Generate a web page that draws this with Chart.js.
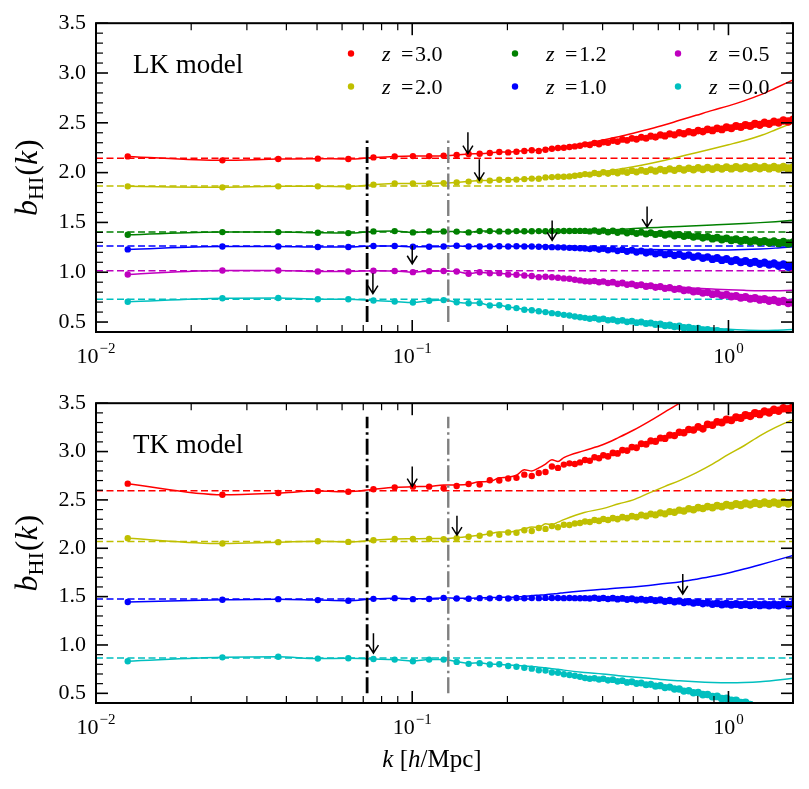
<!DOCTYPE html>
<html>
<head>
<meta charset="utf-8">
<script src="https://cdn.jsdelivr.net/npm/chart.js@4.4.0/dist/chart.umd.min.js"></script>
<style>
body { margin: 0; background: #fff; }
#wrap { position: relative; width: 809px; height: 789px; }
canvas { position: absolute; left: 0; }
</style>
</head>
<body>
<div id="wrap">
  <canvas id="lk" width="809" height="380" style="top:0"></canvas>
  <canvas id="tk" width="809" height="409" style="top:380px"></canvas>
</div>
<script>
// k bins of the measured points [h/Mpc]
var kBins = [0.0126, 0.0251, 0.0377, 0.0503, 0.0628, 0.0754, 0.0880, 0.1005, 0.1131, 0.1257,
  0.1382, 0.1508, 0.1634, 0.1759, 0.1885, 0.2011, 0.2136, 0.2262, 0.2388, 0.2513,
  0.2639, 0.2765, 0.2890, 0.3016, 0.3142, 0.3267, 0.3393, 0.3519, 0.3644, 0.3770,
  0.3896, 0.4021, 0.416, 0.431, 0.446, 0.462, 0.478, 0.495, 0.512, 0.530,
  0.549, 0.568, 0.588, 0.609, 0.630, 0.652, 0.675, 0.699, 0.723, 0.749,
  0.775, 0.802, 0.830, 0.859, 0.890, 0.921, 0.953, 0.986, 1.021, 1.057,
  1.094, 1.132, 1.172, 1.213, 1.256, 1.300, 1.345, 1.393, 1.441, 1.492,
  1.545, 1.600];
// k of the model curves
var kModel = [0.0126, 0.0251, 0.0377, 0.0503, 0.0628, 0.0754, 0.0880, 0.1005, 0.1131, 0.1257,
  0.1382, 0.1508, 0.1634, 0.1759, 0.1885, 0.2011, 0.2136, 0.2262, 0.2388, 0.2513,
  0.2639, 0.2765, 0.2890, 0.3016, 0.35, 0.40, 0.45, 0.50, 0.56, 0.63,
  0.70, 0.79, 0.89, 1.00, 1.12, 1.26, 1.41, 1.60];

var zLabelsLK = ['3.0', '2.0', '1.2', '1.0', '0.5', '0.0'];
var zColorsLK = ['#ff0000', '#bfbf00', '#008000', '#0000ff', '#bf00bf', '#00bfbf'];
var zColorsTK = ['#ff0000', '#bfbf00', '#0000ff', '#00bfbf'];

// LK model, points
var lkPts30 = [2.163, 2.123, 2.136, 2.140, 2.136, 2.153, 2.163, 2.166, 2.166, 2.170,
  2.177, 2.187, 2.190, 2.197, 2.207, 2.203, 2.210, 2.217, 2.224, 2.217,
  2.230, 2.240, 2.247, 2.250, 2.257, 2.263, 2.270, 2.284, 2.278, 2.297,
  2.286, 2.305, 2.300, 2.322, 2.312, 2.333, 2.324, 2.344, 2.335, 2.356,
  2.346, 2.366, 2.357, 2.378, 2.368, 2.389, 2.379, 2.400, 2.390, 2.411,
  2.401, 2.422, 2.412, 2.434, 2.423, 2.445, 2.434, 2.456, 2.446, 2.467,
  2.457, 2.478, 2.468, 2.490, 2.479, 2.501, 2.490, 2.512, 2.502, 2.523,
  2.513, 2.530];
var lkPts20 = [1.862, 1.852, 1.862, 1.862, 1.859, 1.879, 1.892, 1.892, 1.892, 1.895,
  1.902, 1.910, 1.922, 1.920, 1.929, 1.927, 1.930, 1.935, 1.940, 1.938,
  1.952, 1.955, 1.959, 1.958, 1.962, 1.969, 1.975, 1.985, 1.980, 1.996,
  1.986, 2.003, 1.990, 2.008, 1.995, 2.014, 2.001, 2.020, 2.007, 2.025,
  2.011, 2.029, 2.015, 2.033, 2.019, 2.037, 2.023, 2.041, 2.027, 2.045,
  2.030, 2.048, 2.032, 2.051, 2.036, 2.053, 2.038, 2.055, 2.040, 2.056,
  2.041, 2.057, 2.042, 2.058, 2.042, 2.058, 2.042, 2.057, 2.041, 2.056,
  2.040, 2.052];
var lkPts12 = [1.376, 1.403, 1.403, 1.396, 1.393, 1.410, 1.413, 1.400, 1.410, 1.410,
  1.408, 1.400, 1.413, 1.413, 1.410, 1.408, 1.413, 1.412, 1.411, 1.413,
  1.412, 1.414, 1.413, 1.414, 1.414, 1.415, 1.415, 1.415, 1.410, 1.419,
  1.406, 1.418, 1.402, 1.416, 1.398, 1.412, 1.394, 1.407, 1.389, 1.402,
  1.384, 1.396, 1.379, 1.391, 1.373, 1.385, 1.366, 1.378, 1.360, 1.371,
  1.353, 1.364, 1.345, 1.356, 1.337, 1.348, 1.329, 1.340, 1.321, 1.332,
  1.314, 1.325, 1.308, 1.319, 1.302, 1.313, 1.297, 1.308, 1.292, 1.304,
  1.288, 1.298];
var lkPts10 = [1.229, 1.259, 1.259, 1.253, 1.253, 1.263, 1.263, 1.256, 1.256, 1.258,
  1.266, 1.258, 1.258, 1.258, 1.261, 1.258, 1.261, 1.258, 1.258, 1.256,
  1.253, 1.252, 1.250, 1.248, 1.245, 1.243, 1.241, 1.239, 1.232, 1.240,
  1.227, 1.236, 1.221, 1.232, 1.215, 1.226, 1.208, 1.220, 1.200, 1.212,
  1.192, 1.204, 1.184, 1.196, 1.176, 1.188, 1.168, 1.180, 1.160, 1.172,
  1.151, 1.163, 1.141, 1.153, 1.131, 1.143, 1.121, 1.133, 1.111, 1.123,
  1.101, 1.113, 1.092, 1.104, 1.084, 1.096, 1.076, 1.088, 1.066, 1.078,
  1.056, 1.064];
var lkPts05 = [0.977, 1.018, 1.018, 1.008, 1.008, 1.015, 1.012, 1.001, 1.011, 1.013,
  1.008, 0.984, 1.000, 0.990, 0.991, 0.977, 0.975, 0.967, 0.962, 0.950,
  0.955, 0.950, 0.944, 0.938, 0.935, 0.924, 0.918, 0.910, 0.906, 0.913,
  0.899, 0.907, 0.892, 0.900, 0.884, 0.892, 0.876, 0.883, 0.867, 0.874,
  0.858, 0.865, 0.848, 0.855, 0.838, 0.845, 0.828, 0.834, 0.816, 0.822,
  0.804, 0.810, 0.792, 0.798, 0.780, 0.786, 0.768, 0.774, 0.756, 0.762,
  0.744, 0.751, 0.734, 0.741, 0.724, 0.731, 0.714, 0.721, 0.703, 0.710,
  0.691, 0.696];
var lkPts00 = [0.703, 0.739, 0.742, 0.729, 0.729, 0.716, 0.706, 0.696, 0.713, 0.720,
  0.699, 0.689, 0.690, 0.666, 0.668, 0.649, 0.640, 0.623, 0.618, 0.609,
  0.600, 0.589, 0.582, 0.572, 0.565, 0.555, 0.548, 0.542, 0.534, 0.541,
  0.526, 0.533, 0.518, 0.525, 0.510, 0.517, 0.502, 0.509, 0.494, 0.501,
  0.486, 0.490, 0.476, 0.479, 0.465, 0.468, 0.454, 0.457, 0.443, 0.446,
  0.432, 0.434, 0.420, 0.422, 0.408, 0.410, 0.396, 0.398, 0.386];

// LK model, curves
var lkMod30 = [2.163, 2.123, 2.136, 2.140, 2.136, 2.153, 2.163, 2.166, 2.166, 2.170,
  2.177, 2.187, 2.190, 2.197, 2.207, 2.205, 2.212, 2.220, 2.226, 2.225,
  2.234, 2.244, 2.252, 2.258, 2.295, 2.325, 2.360, 2.395, 2.435, 2.480,
  2.525, 2.575, 2.625, 2.670, 2.720, 2.780, 2.850, 2.930];
var lkMod20 = [1.862, 1.852, 1.862, 1.862, 1.859, 1.879, 1.892, 1.892, 1.892, 1.895,
  1.902, 1.910, 1.922, 1.920, 1.929, 1.928, 1.932, 1.937, 1.942, 1.942,
  1.953, 1.958, 1.962, 1.964, 1.985, 2.010, 2.035, 2.060, 2.090, 2.125,
  2.160, 2.200, 2.240, 2.280, 2.320, 2.370, 2.430, 2.500];
var lkMod12 = [1.376, 1.403, 1.403, 1.396, 1.393, 1.410, 1.413, 1.400, 1.410, 1.410,
  1.408, 1.400, 1.413, 1.413, 1.410, 1.408, 1.413, 1.412, 1.412, 1.414,
  1.414, 1.416, 1.416, 1.417, 1.420, 1.425, 1.430, 1.438, 1.446, 1.453,
  1.460, 1.467, 1.474, 1.481, 1.489, 1.498, 1.508, 1.522];
var lkMod10 = [1.229, 1.259, 1.259, 1.253, 1.253, 1.263, 1.263, 1.256, 1.256, 1.258,
  1.266, 1.258, 1.258, 1.258, 1.261, 1.258, 1.261, 1.258, 1.258, 1.257,
  1.255, 1.254, 1.252, 1.250, 1.246, 1.241, 1.236, 1.232, 1.228, 1.225,
  1.223, 1.222, 1.222, 1.224, 1.228, 1.234, 1.242, 1.255];
var lkMod05 = [0.977, 1.018, 1.018, 1.008, 1.008, 1.015, 1.012, 1.001, 1.011, 1.013,
  1.008, 0.986, 1.000, 0.992, 0.991, 0.980, 0.977, 0.970, 0.965, 0.955,
  0.957, 0.952, 0.947, 0.941, 0.922, 0.905, 0.891, 0.880, 0.869, 0.859,
  0.850, 0.840, 0.831, 0.823, 0.818, 0.815, 0.815, 0.818];
var lkMod00 = [0.703, 0.739, 0.742, 0.729, 0.729, 0.716, 0.706, 0.696, 0.713, 0.720,
  0.699, 0.690, 0.690, 0.668, 0.668, 0.651, 0.642, 0.626, 0.620, 0.611,
  0.602, 0.592, 0.585, 0.576, 0.548, 0.531, 0.516, 0.503, 0.490, 0.477,
  0.465, 0.451, 0.438, 0.427, 0.419, 0.415, 0.417, 0.424];
var lkLinBias = [2.145, 1.865, 1.403, 1.264, 1.016, 0.728];

// TK model, points
var tkPts30 = [2.668, 2.554, 2.571, 2.591, 2.584, 2.610, 2.630, 2.637, 2.637, 2.620,
  2.644, 2.664, 2.660, 2.704, 2.700, 2.721, 2.728, 2.761, 2.748, 2.778,
  2.788, 2.845, 2.831, 2.865, 2.878, 2.872, 2.888, 2.912, 2.905, 2.940,
  2.930, 2.962, 2.950, 2.986, 2.980, 3.015, 3.010, 3.046, 3.040, 3.080,
  3.075, 3.110, 3.105, 3.140, 3.135, 3.170, 3.165, 3.200, 3.195, 3.228,
  3.222, 3.255, 3.235, 3.281, 3.274, 3.307, 3.300, 3.332, 3.324, 3.355,
  3.346, 3.377, 3.367, 3.397, 3.386, 3.415, 3.404, 3.433, 3.421, 3.449,
  3.437, 3.462];
var tkPts20 = [2.103, 2.049, 2.063, 2.073, 2.066, 2.083, 2.096, 2.096, 2.096, 2.093,
  2.103, 2.119, 2.129, 2.153, 2.140, 2.163, 2.160, 2.186, 2.178, 2.209,
  2.200, 2.229, 2.218, 2.243, 2.240, 2.256, 2.262, 2.276, 2.272, 2.292,
  2.283, 2.302, 2.292, 2.312, 2.302, 2.322, 2.312, 2.332, 2.322, 2.344,
  2.334, 2.355, 2.345, 2.366, 2.356, 2.379, 2.372, 2.394, 2.386, 2.408,
  2.399, 2.420, 2.411, 2.431, 2.421, 2.441, 2.431, 2.450, 2.439, 2.458,
  2.446, 2.464, 2.452, 2.469, 2.456, 2.473, 2.459, 2.475, 2.461, 2.477,
  2.463, 2.478];
var tkPts10 = [1.444, 1.467, 1.474, 1.464, 1.457, 1.477, 1.484, 1.474, 1.476, 1.487,
  1.480, 1.478, 1.484, 1.482, 1.485, 1.481, 1.486, 1.483, 1.485, 1.484,
  1.487, 1.485, 1.486, 1.484, 1.485, 1.484, 1.483, 1.484, 1.480, 1.488,
  1.477, 1.486, 1.475, 1.484, 1.473, 1.481, 1.470, 1.478, 1.466, 1.474,
  1.462, 1.470, 1.458, 1.466, 1.452, 1.460, 1.446, 1.454, 1.440, 1.448,
  1.434, 1.442, 1.428, 1.436, 1.423, 1.431, 1.419, 1.427, 1.416, 1.424,
  1.414, 1.421, 1.412, 1.420, 1.411, 1.419, 1.411, 1.419, 1.411, 1.420,
  1.412, 1.420];
var tkPts00 = [0.832, 0.872, 0.878, 0.859, 0.862, 0.855, 0.849, 0.832, 0.849, 0.849,
  0.825, 0.805, 0.812, 0.798, 0.800, 0.782, 0.775, 0.765, 0.755, 0.738,
  0.735, 0.715, 0.712, 0.698, 0.690, 0.682, 0.672, 0.658, 0.650, 0.657,
  0.643, 0.650, 0.634, 0.641, 0.624, 0.631, 0.613, 0.619, 0.601, 0.607,
  0.588, 0.593, 0.574, 0.579, 0.560, 0.565, 0.545, 0.544, 0.523, 0.526,
  0.505, 0.508, 0.486, 0.488, 0.466, 0.468, 0.446, 0.448, 0.425, 0.426,
  0.403, 0.404, 0.381];

// TK model, curves
var tkMod30 = [2.668, 2.554, 2.571, 2.591, 2.584, 2.610, 2.630, 2.637, 2.640, 2.654,
  2.655, 2.662, 2.688, 2.690, 2.728, 2.735, 2.755, 2.811, 2.800, 2.831,
  2.871, 2.915, 2.898, 2.938, 3.010, 3.070, 3.146, 3.220, 3.310, 3.410,
  3.500, 3.620];
var tkMod20 = [2.103, 2.049, 2.063, 2.073, 2.066, 2.083, 2.096, 2.098, 2.100, 2.100,
  2.110, 2.122, 2.135, 2.150, 2.169, 2.165, 2.180, 2.200, 2.219, 2.215,
  2.253, 2.245, 2.270, 2.296, 2.370, 2.410, 2.460, 2.500, 2.570, 2.640,
  2.700, 2.780, 2.870, 2.970, 3.060, 3.165, 3.250, 3.330];
var tkMod10 = [1.444, 1.467, 1.474, 1.464, 1.457, 1.477, 1.484, 1.478, 1.480, 1.487,
  1.484, 1.484, 1.487, 1.490, 1.492, 1.494, 1.497, 1.502, 1.510, 1.515,
  1.520, 1.527, 1.533, 1.540, 1.560, 1.575, 1.590, 1.600, 1.615, 1.635,
  1.652, 1.680, 1.710, 1.745, 1.785, 1.830, 1.875, 1.925];
var tkMod00 = [0.832, 0.872, 0.878, 0.859, 0.862, 0.855, 0.849, 0.835, 0.849, 0.849,
  0.828, 0.810, 0.815, 0.802, 0.800, 0.792, 0.790, 0.782, 0.778, 0.770,
  0.765, 0.755, 0.750, 0.740, 0.715, 0.700, 0.682, 0.670, 0.655, 0.640,
  0.630, 0.620, 0.613, 0.610, 0.612, 0.620, 0.635, 0.655];
var tkLinBias = [2.594, 2.069, 1.475, 0.865];

// vertical dash-dot markers
var kCut = [0.072, 0.130];
var lkCutSpan = [0.5, 2.35];
var tkCutSpan = [0.5, 3.36];

// arrows (k, top of shaft, tip)
var lkArrowK = [0.150, 0.163, 0.277, 0.553, 0.100, 0.0751];
var lkArrowTop = [2.405, 2.133, 1.520, 1.661, 1.269, 0.990];
var lkArrowTip = [2.190, 1.922, 1.319, 1.453, 1.085, 0.786];
var tkArrowK = [0.100, 0.1385, 0.717, 0.0754];
var tkArrowTop = [2.845, 2.336, 1.735, 1.120];
var tkArrowTip = [2.637, 2.136, 1.527, 0.915];

// ticks
var yMajor = [0.5, 1.0, 1.5, 2.0, 2.5, 3.0, 3.5];
var yMinor = [0.4, 0.6, 0.7, 0.8, 0.9, 1.1, 1.2, 1.3, 1.4, 1.6, 1.7, 1.8, 1.9,
  2.1, 2.2, 2.3, 2.4, 2.6, 2.7, 2.8, 2.9, 3.1, 3.2, 3.3, 3.4];
var xMajor = [0.01, 0.1, 1];
var xExp = ['\u22122', '\u22121', '0'];
var xMinor = [0.02, 0.03, 0.04, 0.05, 0.06, 0.07, 0.08, 0.09,
  0.2, 0.3, 0.4, 0.5, 0.6, 0.7, 0.8, 0.9];

var SERIF = '"Liberation Serif", "Times New Roman", serif';

function xy(ks, vals) {
  return vals.map(function (v, i) { return { x: ks[i], y: v }; });
}

// dense high-k bins overlap into a thicker band
function dotRadius(c) {
  var k = c.raw ? c.raw.x : 0.01;
  if (k < 0.35) return 3.2;
  return 3.2 + 1.1 * Math.min(1, Math.log10(k / 0.35) / Math.log10(1.6 / 0.35));
}

function buildDatasets(pts, mods, bias, colors, cutSpan) {
  var ds = [];
  var cutColors = ['#000000', '#808080'];
  var cutWidths = [2.8, 2.4];
  kCut.forEach(function (k, i) {
    ds.push({
      data: [{ x: k, y: cutSpan[0] }, { x: k, y: cutSpan[1] }],
      showLine: true, borderColor: cutColors[i], borderWidth: cutWidths[i],
      borderDash: [16, 4, 2.5, 4], pointRadius: 0, order: 0, clip: 0
    });
  });
  pts.forEach(function (arr, i) {
    ds.push({
      data: xy(kBins, arr), backgroundColor: colors[i], pointRadius: dotRadius,
      pointBorderWidth: 0, pointHoverRadius: 0, showLine: false, order: 1, clip: 0
    });
  });
  mods.forEach(function (arr, i) {
    ds.push({
      data: xy(kModel, arr), showLine: true, borderColor: colors[i], borderWidth: 1.5,
      pointRadius: 0, cubicInterpolationMode: 'monotone', order: 2, clip: 0
    });
  });
  bias.forEach(function (b, i) {
    ds.push({
      data: [{ x: 0.01, y: b }, { x: 1.6, y: b }], showLine: true, borderColor: colors[i],
      borderWidth: 1.5, borderDash: [7, 3.5], pointRadius: 0, order: 3, clip: 0
    });
  });
  return ds;
}

function drawPieces(ctx, pieces, x, y) {
  pieces.forEach(function (p) {
    ctx.font = p.f;
    ctx.fillText(p.t, x, y + (p.dy || 0));
    x += ctx.measureText(p.t).width + (p.gap || 0);
  });
}
function piecesWidth(ctx, pieces) {
  var w = 0;
  pieces.forEach(function (p) { ctx.font = p.f; w += ctx.measureText(p.t).width + (p.gap || 0); });
  return w;
}

function makeDeco(cfg) {
  return {
    id: 'deco',
    afterDatasetsDraw: function (chart) {
      var ctx = chart.ctx, xs = chart.scales.x, ys = chart.scales.y;
      ctx.save();
      ctx.strokeStyle = '#000';
      ctx.lineWidth = 1.5;
      cfg.arrowK.forEach(function (k, i) {
        var px = xs.getPixelForValue(k);
        var y0 = ys.getPixelForValue(cfg.arrowTop[i]);
        var y1 = ys.getPixelForValue(cfg.arrowTip[i]);
        ctx.beginPath();
        ctx.moveTo(px, y0); ctx.lineTo(px, y1);
        ctx.moveTo(px - 5, y1 - 8); ctx.lineTo(px, y1); ctx.lineTo(px + 5, y1 - 8);
        ctx.stroke();
      });
      ctx.restore();
    },
    afterDraw: function (chart) {
      var ctx = chart.ctx, xs = chart.scales.x, ys = chart.scales.y, a = chart.chartArea;
      ctx.save();
      ctx.strokeStyle = '#000';
      function seg(x1, y1, x2, y2) { ctx.beginPath(); ctx.moveTo(x1, y1); ctx.lineTo(x2, y2); ctx.stroke(); }
      ctx.lineWidth = 1.2;
      xMinor.forEach(function (v) {
        var p = xs.getPixelForValue(v);
        seg(p, a.bottom, p, a.bottom - 7); seg(p, a.top, p, a.top + 7);
      });
      yMinor.forEach(function (v) {
        var p = ys.getPixelForValue(v);
        seg(a.left, p, a.left + 7, p); seg(a.right, p, a.right - 7, p);
      });
      ctx.lineWidth = 1.6;
      xMajor.forEach(function (v) {
        var p = xs.getPixelForValue(v);
        seg(p, a.bottom, p, a.bottom - 12); seg(p, a.top, p, a.top + 12);
      });
      yMajor.forEach(function (v) {
        var p = ys.getPixelForValue(v);
        seg(a.left, p, a.left + 12, p); seg(a.right, p, a.right - 12, p);
      });
      ctx.lineWidth = 2;
      ctx.strokeRect(a.left, a.top, a.right - a.left, a.bottom - a.top);

      ctx.fillStyle = '#000';
      ctx.textBaseline = 'alphabetic';
      ctx.textAlign = 'left';
      // x tick labels 10^n
      xMajor.forEach(function (v, i) {
        var p = xs.getPixelForValue(v);
        var pieces = [{ t: '10', f: '22px ' + SERIF, gap: 1 }, { t: xExp[i], f: '15px ' + SERIF, dy: -10 }];
        var w = piecesWidth(ctx, pieces);
        drawPieces(ctx, pieces, p - w / 2, a.bottom + 31);
      });
      // y axis title b_HI(k)
      ctx.save();
      ctx.translate(37, (a.top + a.bottom) / 2);
      ctx.rotate(-Math.PI / 2);
      var yt = [
        { t: 'b', f: 'italic 32px ' + SERIF },
        { t: 'HI', f: '22px ' + SERIF, dy: 6, gap: 1 },
        { t: '(', f: '32px ' + SERIF },
        { t: 'k', f: 'italic 32px ' + SERIF, gap: 1 },
        { t: ')', f: '32px ' + SERIF }
      ];
      drawPieces(ctx, yt, -piecesWidth(ctx, yt) / 2, 0);
      ctx.restore();
      // panel name
      ctx.font = '27px ' + SERIF;
      ctx.fillText(cfg.name, 133, a.top + 50);
      // x axis title
      if (cfg.xTitle) {
        var xt = [
          { t: 'k', f: 'italic 25px ' + SERIF },
          { t: ' [', f: '25px ' + SERIF },
          { t: 'h', f: 'italic 25px ' + SERIF },
          { t: '/Mpc]', f: '25px ' + SERIF }
        ];
        drawPieces(ctx, xt, 432 - piecesWidth(ctx, xt) / 2, a.bottom + 64);
      }
      // legend
      if (cfg.legend) {
        var colX = [351, 515, 678], rowY = [53.5, 86.5];
        zLabelsLK.forEach(function (lab, i) {
          var cx = colX[Math.floor(i / 2)], cy = rowY[i % 2];
          ctx.fillStyle = zColorsLK[i];
          ctx.beginPath(); ctx.arc(cx, cy, 3.2, 0, Math.PI * 2); ctx.fill();
          ctx.fillStyle = '#000';
          ctx.font = 'italic 22px ' + SERIF;
          ctx.fillText('z', cx + 31, cy + 7);
          ctx.font = '22px ' + SERIF;
          ctx.fillText('=', cx + 50, cy + 7);
          ctx.fillText(lab, cx + 64, cy + 7);
        });
      }
      ctx.restore();
    }
  };
}

function makeChart(id, datasets, padTop, xHeight, deco) {
  return new Chart(document.getElementById(id), {
    type: 'scatter',
    data: { datasets: datasets },
    options: {
      responsive: false,
      animation: false,
      events: [],
      layout: { padding: { top: padTop, right: 16, left: 0, bottom: 0 } },
      plugins: { legend: { display: false }, tooltip: { enabled: false } },
      scales: {
        x: {
          type: 'logarithmic', min: 0.01, max: 1.6,
          grid: { display: false, drawTicks: false },
          border: { display: false },
          ticks: { display: false },
          afterBuildTicks: function (s) { s.ticks = xMajor.map(function (v) { return { value: v }; }); },
          afterFit: function (s) { s.height = xHeight; }
        },
        y: {
          type: 'linear', min: 0.4, max: 3.5,
          grid: { display: false, drawTicks: false },
          border: { display: false },
          ticks: {
            color: '#000', padding: 10,
            font: { family: SERIF, size: 22 },
            callback: function (v) { return Number(v).toFixed(1); }
          },
          afterBuildTicks: function (s) { s.ticks = yMajor.map(function (v) { return { value: v }; }); },
          afterFit: function (s) { s.width = 96; }
        }
      }
    },
    plugins: [deco]
  });
}

makeChart('lk',
  buildDatasets([lkPts30, lkPts20, lkPts12, lkPts10, lkPts05, lkPts00],
    [lkMod30, lkMod20, lkMod12, lkMod10, lkMod05, lkMod00], lkLinBias, zColorsLK, lkCutSpan),
  23, 48,
  makeDeco({ name: 'LK model', arrowK: lkArrowK, arrowTop: lkArrowTop, arrowTip: lkArrowTip, legend: true, xTitle: false }));

makeChart('tk',
  buildDatasets([tkPts30, tkPts20, tkPts10, tkPts00],
    [tkMod30, tkMod20, tkMod10, tkMod00], tkLinBias, zColorsTK, tkCutSpan),
  14, 86,
  makeDeco({ name: 'TK model', arrowK: tkArrowK, arrowTop: tkArrowTop, arrowTip: tkArrowTip, legend: false, xTitle: true }));
</script>
</body>
</html>
